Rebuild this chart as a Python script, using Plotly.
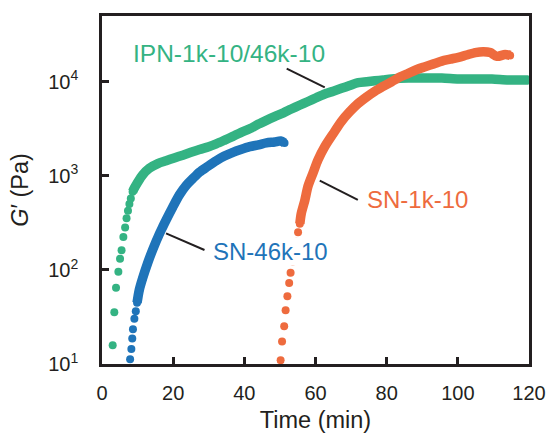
import numpy as np
import plotly.graph_objects as go

# ---------------- data ----------------
ipn_t = [3.0, 3.46, 3.94, 4.6, 5.07, 5.5, 6.0, 6.5, 6.9, 7.3, 7.7, 8.1, 8.6, 9.1, 10.0, 11.4,
         13.3, 15.7, 18.0, 20.3, 22.7, 25.0, 27.4, 30.0, 32.1, 34.5, 36.8, 39.0, 41.5, 44.0,
         46.2, 48.5, 51.0, 53.2, 55.5, 57.9, 60.2, 62.6, 65.0, 67.3, 69.6, 72.0, 74.4, 76.7,
         79.0, 81.4, 86.1, 90.8, 95.5, 100.2, 104.9, 109.6, 114.2, 119.9]
ipn_logG = [1.20, 1.55, 1.81, 1.98, 2.12, 2.21, 2.35, 2.45, 2.55, 2.63, 2.70, 2.76, 2.83, 2.87, 2.93, 3.01,
            3.08, 3.13, 3.16, 3.19, 3.22, 3.25, 3.28, 3.31, 3.34, 3.38, 3.42, 3.46, 3.50, 3.55,
            3.59, 3.63, 3.67, 3.71, 3.75, 3.79, 3.83, 3.87, 3.90, 3.93, 3.96, 3.99, 4.00, 4.01,
            4.02, 4.03, 4.04, 4.04, 4.04, 4.03, 4.03, 4.03, 4.02, 4.02]

sn46_t = [7.9, 8.25, 8.5, 8.7, 9.1, 9.5, 9.85, 10.5, 11.4, 12.8, 14.3, 16.1, 17.1, 18.0, 19.9,
          21.8, 23.7, 25.5, 27.4, 29.7, 32.1, 34.4, 36.8, 39.0, 41.5, 44.0, 46.2, 48.5, 50.2, 51.3]
sn46_logG = [1.05, 1.16, 1.27, 1.37, 1.48, 1.56, 1.65, 1.79, 1.91, 2.07, 2.22, 2.38, 2.46, 2.53, 2.67,
             2.80, 2.90, 2.97, 3.04, 3.10, 3.16, 3.21, 3.25, 3.28, 3.31, 3.33, 3.35, 3.36, 3.37, 3.35]

sn1_t = [50.2, 50.6, 51.2, 51.6, 52.1, 52.6, 53.0, 53.6, 54.1, 54.6, 55.1, 55.6, 56.0, 57.0, 57.9,
         59.3, 60.7, 62.6, 65.0, 67.3, 69.6, 72.0, 74.4, 76.7, 79.0, 81.4, 83.7, 86.1, 88.5,
         90.8, 93.2, 95.5, 97.8, 100.2, 102.5, 104.9, 107.2, 109.1, 111.0, 113.3, 114.7]
sn1_logG = [1.04, 1.24, 1.40, 1.57, 1.72, 1.86, 1.97, 2.09, 2.20, 2.30, 2.40, 2.49, 2.60, 2.74, 2.89,
            3.03, 3.17, 3.31, 3.45, 3.58, 3.68, 3.77, 3.84, 3.90, 3.95, 4.00, 4.05, 4.09, 4.13,
            4.16, 4.19, 4.22, 4.24, 4.26, 4.285, 4.31, 4.32, 4.31, 4.27, 4.29, 4.28]

ipn_G = [10 ** v for v in ipn_logG]
sn46_G = [10 ** v for v in sn46_logG]
sn1_G = [10 ** v for v in sn1_logG]

x_ticks = [0, 20, 40, 60, 80, 100, 120]
y_ticks = [10, 100, 1000, 10000]
y_ticktext = ["10<sup>1</sup>", "10<sup>2</sup>", "10<sup>3</sup>", "10<sup>4</sup>"]

labels = ["IPN-1k-10/46k-10", "SN-1k-10", "SN-46k-10"]
label_t = [8.3, 74.3, 30.8]
label_G = [2.0e4, 556, 157]
leader_t = [[51.9, 62.6], [61.2, 71.9], [18.0, 28.8]]
leader_G = [[1.38e4, 8.7e3], [890, 556], [245, 163]]

# thresholds where the dots merge into a continuous band
dense_from = [8.5, 55.5, 9.8]

# ---------------- styles ----------------
GREEN = "#34B383"
ORANGE = "#EE6B3E"
BLUE = "#1F74B9"
INK = "#231F20"
FONT = "Liberation Sans, Arial, sans-serif"

fig = go.Figure()

series = [(ipn_t, ipn_G, GREEN), (sn1_t, sn1_G, ORANGE), (sn46_t, sn46_G, BLUE)]
for (t, g, c), thr in zip(series, dense_from):
    td = [a for a in t if a >= thr]
    gd = [b for a, b in zip(t, g) if a >= thr]
    fig.add_trace(go.Scatter(x=td, y=gd, mode="lines",
                             line=dict(color=c, width=9.5, shape="spline", smoothing=0.8),
                             showlegend=False, hoverinfo="skip"))
    fig.add_trace(go.Scatter(x=t, y=g, mode="markers",
                             marker=dict(color=c, size=8, line=dict(width=0)),
                             showlegend=False))

for lt, lg in zip(leader_t, leader_G):
    fig.add_trace(go.Scatter(x=lt, y=lg, mode="lines", line=dict(color=INK, width=2),
                             showlegend=False, hoverinfo="skip"))

colors = [GREEN, ORANGE, BLUE]
sizes = [24.5, 24, 24]
for i, (txt, tx, gy) in enumerate(zip(labels, label_t, label_G)):
    fig.add_annotation(x=tx, y=np.log10(gy), xref="x", yref="y", text=txt,
                       showarrow=False, xanchor="left", yanchor="middle",
                       font=dict(family=FONT, size=sizes[i], color=colors[i]),
                       bgcolor="white" if i == 2 else "rgba(0,0,0,0)", borderpad=0)

fig.update_layout(
    width=550, height=433,
    margin=dict(l=102, r=21, t=16, b=69, autoexpand=False),
    paper_bgcolor="white", plot_bgcolor="white",
    font=dict(family=FONT, size=20, color=INK),
    showlegend=False,
)
fig.update_xaxes(range=[0, 120], tickvals=x_ticks, ticks="inside", ticklen=7, tickwidth=2.5,
                 tickcolor=INK, showline=True, linecolor=INK, linewidth=2.5, mirror=True,
                 showgrid=False, zeroline=False, automargin=False, ticklabelstandoff=9,
                 title=dict(text="Time (min)", font=dict(size=23.5), standoff=12))
fig.update_yaxes(type="log", range=[1, np.log10(5e4)], tickvals=y_ticks, ticktext=y_ticktext,
                 ticks="inside", ticklen=7, tickwidth=2.5, tickcolor=INK,
                 showline=True, linecolor=INK, linewidth=2.5, mirror=True,
                 showgrid=False, zeroline=False, automargin=False, ticklabelstandoff=17,
                 title=dict(text="<i>G</i>′ (Pa)", font=dict(size=23.5), standoff=13))

fig.write_html("out.html")
